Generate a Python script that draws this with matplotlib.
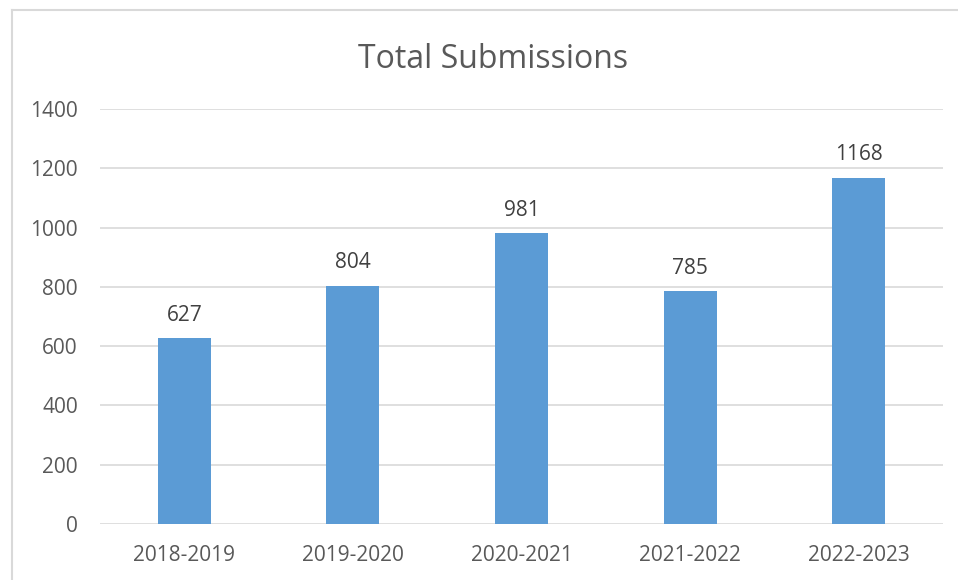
import matplotlib.pyplot as plt
from matplotlib.lines import Line2D

years = ["2018-2019", "2019-2020", "2020-2021", "2021-2022", "2022-2023"]
submissions = [627, 804, 981, 785, 1168]
yticks = [0, 200, 400, 600, 800, 1000, 1200, 1400]

plt.rcParams['font.family'] = ['Open Sans', 'DejaVu Sans']
text_color = '#595959'

fig = plt.figure(figsize=(9.58, 5.8), dpi=100)
ax = fig.add_axes([100 / 958, 1 - 524 / 580, 843 / 958, 415 / 580])

x = range(len(years))
bars = ax.bar(x, submissions, width=0.315, color='#5B9BD5', zorder=3)

for xi, v in zip(x, submissions):
    ax.annotate(str(v), (xi, v), xytext=(0, 9), textcoords='offset points',
                ha='center', va='bottom', fontsize=15, color='#404040')

ax.set_xlim(-0.5, len(years) - 0.5)
ax.set_ylim(0, 1400)
ax.set_yticks(yticks)
ax.set_xticks(list(x))
ax.set_xticklabels(years)
ax.tick_params(axis='both', length=0, labelsize=15, labelcolor=text_color)
ax.tick_params(axis='x', pad=15)
ax.tick_params(axis='y', pad=16)
ax.grid(axis='y', color='#D9D9D9', linewidth=1.2, zorder=0)
for s in ax.spines.values():
    s.set_visible(False)

fig.text(493 / 958, 1 - 59 / 580, "Total Submissions", ha='center', va='center',
         fontsize=23, color=text_color)

# chart area border (left and top only visible)
fig.add_artist(Line2D([12 / 958, 12 / 958], [0, 1 - 10 / 580], transform=fig.transFigure,
                      color='#D9D9D9', linewidth=1.5))
fig.add_artist(Line2D([12 / 958, 1], [1 - 10 / 580, 1 - 10 / 580], transform=fig.transFigure,
                      color='#D9D9D9', linewidth=1.5))

fig.savefig("out.png", dpi=100)
